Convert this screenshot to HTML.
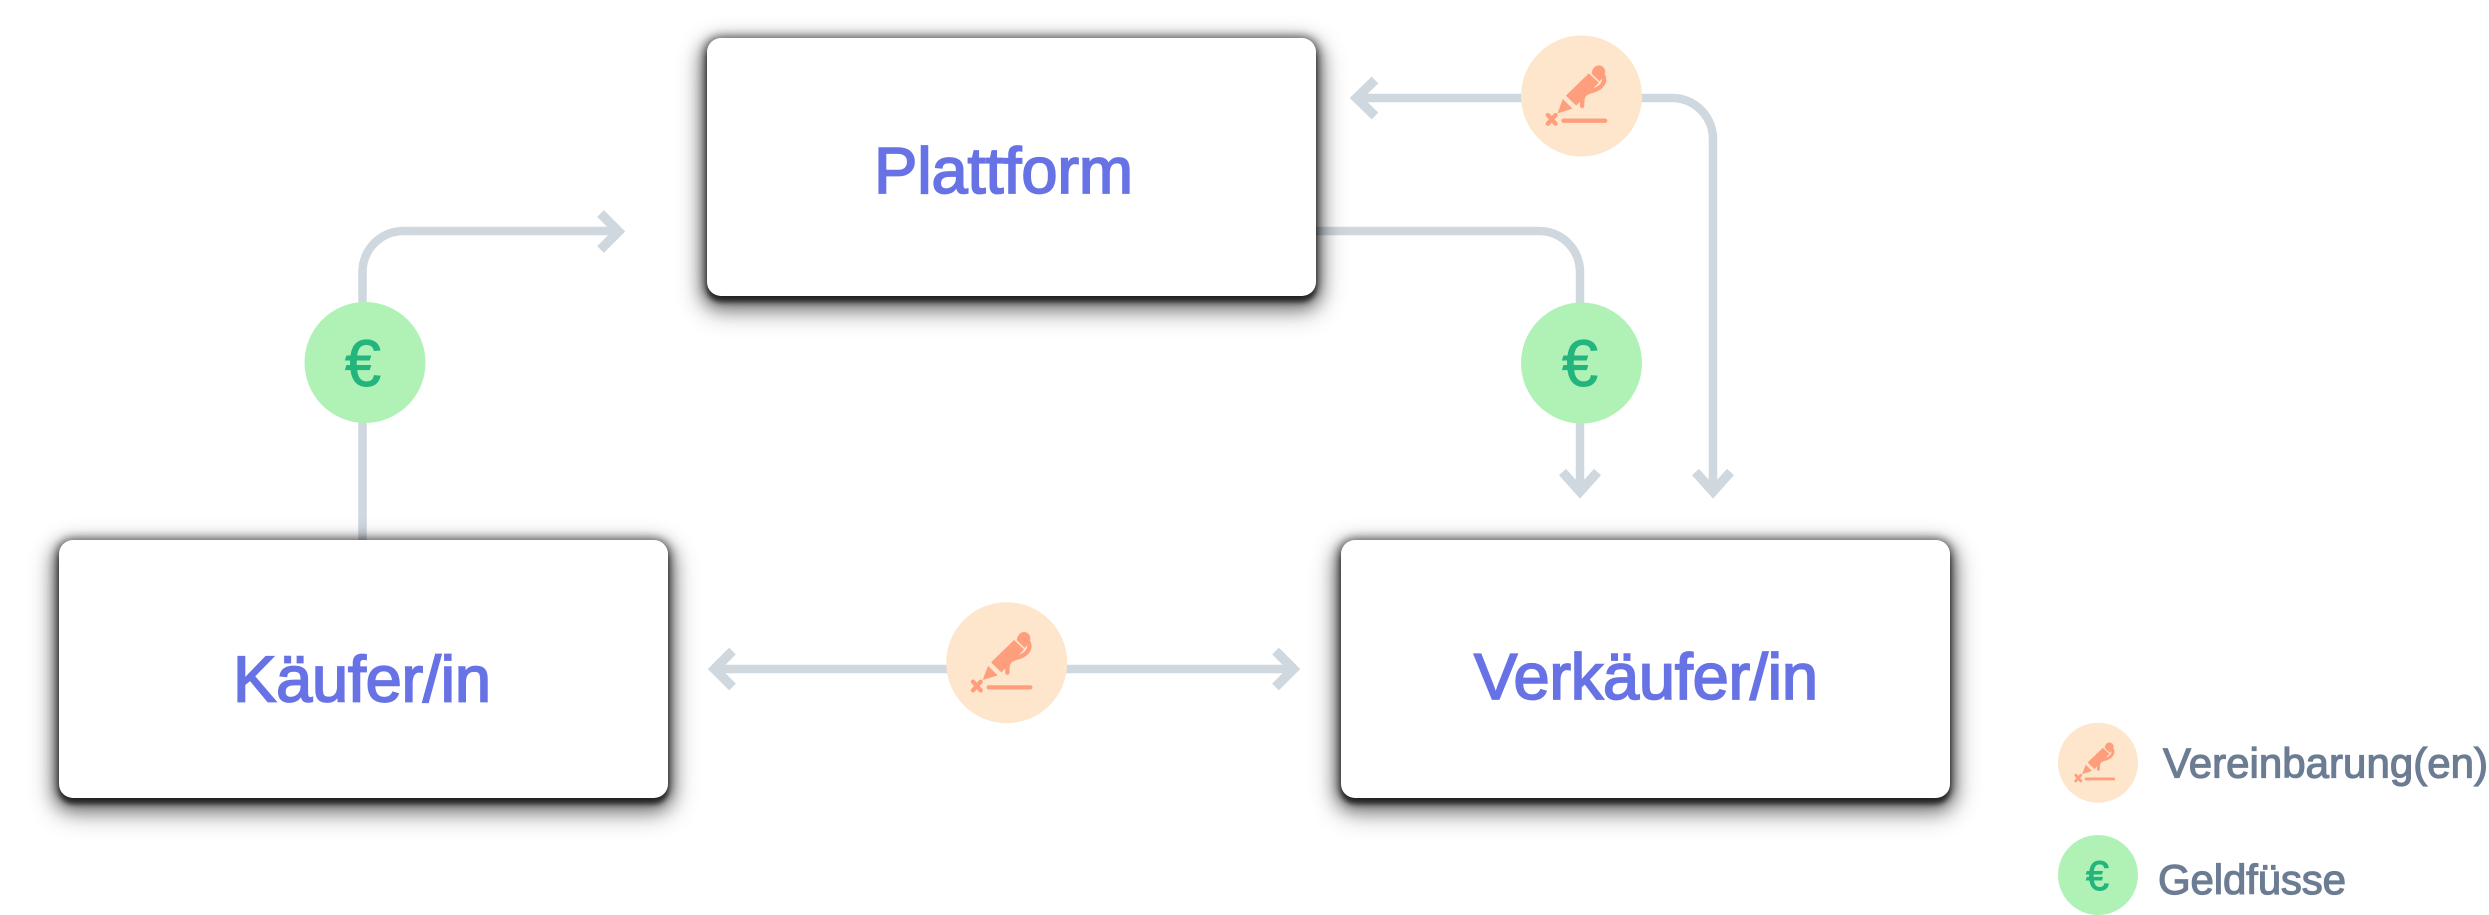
<!DOCTYPE html>
<html lang="de">
<head>
<meta charset="utf-8">
<title>Plattform Diagramm</title>
<style>
html,body{margin:0;padding:0;background:#fff;width:2489px;height:915px;overflow:hidden}
#stage{position:relative;width:2489px;height:915px;overflow:hidden;background:#fff}
svg{position:absolute;left:0;top:0}
.box{position:absolute;width:609px;height:258px;background:#fff;border-radius:14px;
box-shadow:0 6px 5px rgba(0,0,0,.55),0 1px 8px 3px rgba(0,0,0,.42),0 7px 16px 5px rgba(0,0,0,.38),0 10px 26px 6px rgba(0,0,0,.32)}
text{font-family:"Liberation Sans",sans-serif}
.t{font-size:65px;fill:#6772e5;stroke:#6772e5;stroke-width:1.8px}
.l{font-size:42px;fill:#6b7c93;stroke:#6b7c93;stroke-width:1.2px}
.e{fill:#24b47e;stroke:#24b47e;stroke-width:.9px}
</style>
</head>
<body>
<div id="stage">
<svg width="2489" height="915" viewBox="0 0 2489 915" fill="none">
<g stroke="#cfd7df" stroke-width="8.5" fill="none">
<path d="M362.5 545V272A41 41 0 0 1 403.500 231H618"/>
<path d="M600.500 213.500L618.500 231.500L600.500 249.500" stroke-width="9.500"/>
<path d="M1310 231H1539A41 41 0 0 1 1580 272V491"/>
<path d="M1562.500 472L1580 491.500L1597.500 472" stroke-width="9.500"/>
<path d="M1357 98H1672A41 41 0 0 1 1713 139V491"/>
<path d="M1375 80L1356.500 98L1375 116" stroke-width="9.500"/>
<path d="M1695.500 472L1713 491.500L1730.500 472" stroke-width="9.500"/>
<path d="M715 669H1293"/>
<path d="M732.500 651L714.500 669L732.500 687" stroke-width="9.500"/>
<path d="M1275.500 651L1293.500 669L1275.500 687" stroke-width="9.500"/>
</g>
</svg>
<div class="box" style="left:707px;top:38px"></div>
<div class="box" style="left:59px;top:540px"></div>
<div class="box" style="left:1341px;top:540px"></div>
<svg width="2489" height="915" viewBox="0 0 2489 915">
<defs>
<g id="pen">
<polygon points="-72,52 -56,9 -27,38" fill="#ff9e7d"/>
<polygon points="-47,-1 22,-68 52,-40 -16,29" fill="#ff9e7d"/>
<circle cx="52" cy="-73" r="19" fill="#ff9e7d"/>
<polygon points="33,-80 70,-62 54,-44 30,-68" fill="#ff9e7d"/>
<path d="M66 -60C74 -40 58 -25 40 -18C15 -10 0 -10 2 30" fill="none" stroke="#ff9e7d" stroke-width="13" stroke-linecap="round"/>
<path d="M-101 57L-78 83M-78 57L-101 83" stroke="#ff9e7d" stroke-width="13" stroke-linecap="round"/>
<path d="M-54 74H71" stroke="#ff9e7d" stroke-width="13" stroke-linecap="round"/>
</g>
</defs>
<circle cx="365" cy="362.500" r="60.500" fill="#b0f2b6"/>
<circle cx="1581.500" cy="363" r="60.500" fill="#b0f2b6"/>
<circle cx="1581.500" cy="96" r="60.500" fill="#fee6cc"/>
<circle cx="1006.700" cy="662.700" r="60.500" fill="#fee6cc"/>
<circle cx="2098" cy="762.700" r="40" fill="#fee6cc"/>
<circle cx="2098" cy="875" r="40" fill="#b0f2b6"/>
<use href="#pen" transform="translate(1581.500 96) scale(.3333)"/>
<use href="#pen" transform="translate(1006.700 662.700) scale(.3333)"/>
<use href="#pen" transform="translate(2098 762.700) scale(.22)"/>
<text class="e" x="345" y="386" font-size="66" textLength="36" lengthAdjust="spacingAndGlyphs">€</text>
<text class="e" x="1562" y="386" font-size="66" textLength="36" lengthAdjust="spacingAndGlyphs">€</text>
<text class="e" x="2086" y="890" font-size="42" textLength="23" lengthAdjust="spacingAndGlyphs">€</text>
<text class="t" x="874" y="193" textLength="259" lengthAdjust="spacing">Plattform</text>
<text class="t" x="233" y="701.500" textLength="258" lengthAdjust="spacing">Käufer/in</text>
<text class="t" x="1474" y="699" textLength="344" lengthAdjust="spacing">Verkäufer/in</text>
<text class="l" x="2163" y="777.700" textLength="325" lengthAdjust="spacing">Vereinbarung(en)</text>
<text class="l" x="2158" y="894" textLength="188" lengthAdjust="spacing">Geldfüsse</text>
</svg>
</div>
</body>
</html>
